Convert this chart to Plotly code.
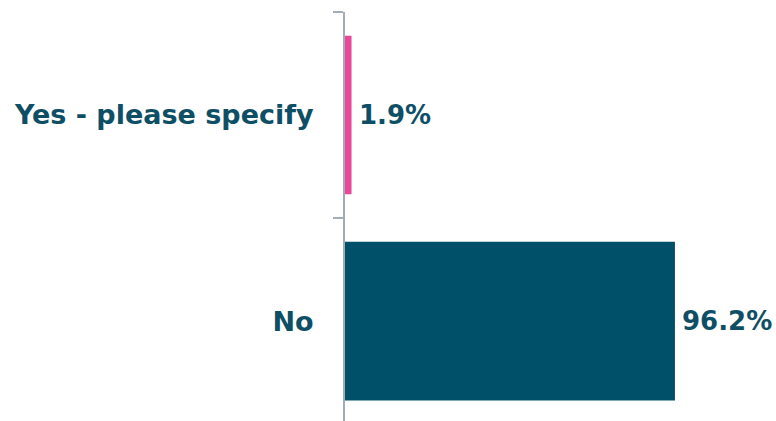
import plotly.graph_objects as go

categories = ["No", "Yes - please specify"]
values = [96.2, 1.9]
labels = ["96.2%", "1.9%"]
colors = ["#01506A", "#E8479A"]

TEXT = "#0E4F66"
FONT = "DejaVu Sans"

fig = go.Figure()
fig.add_trace(go.Bar(
    x=values, y=categories, orientation="h",
    marker=dict(color=colors, line=dict(width=0)),
    width=0.77,
))
for v, c, t in zip(values, categories, labels):
    fig.add_annotation(
        x=v, y=c, text=t, showarrow=False, xanchor="left", yanchor="middle",
        xshift=5, font=dict(family=FONT, size=26, color=TEXT, weight="bold"),
    )
fig.update_layout(
    width=776, height=421,
    margin=dict(l=345, r=16, t=12, b=0, pad=0),
    paper_bgcolor="white", plot_bgcolor="white",
    showlegend=False,
    xaxis=dict(range=[0, 121], visible=False, fixedrange=True),
    yaxis=dict(
        type="category", range=[-0.485, 1.5],
        showline=True, linecolor="#A3ADB8", linewidth=2,
        ticks="outside", tickson="boundaries", ticklen=10,
        tickcolor="#A3ADB8", tickwidth=2,
        showgrid=False, zeroline=False,
        ticklabelstandoff=24,
        tickfont=dict(family=FONT, size=27, color=TEXT, weight="bold"),
    ),
    font=dict(family=FONT),
)
fig.write_html("out.html")
